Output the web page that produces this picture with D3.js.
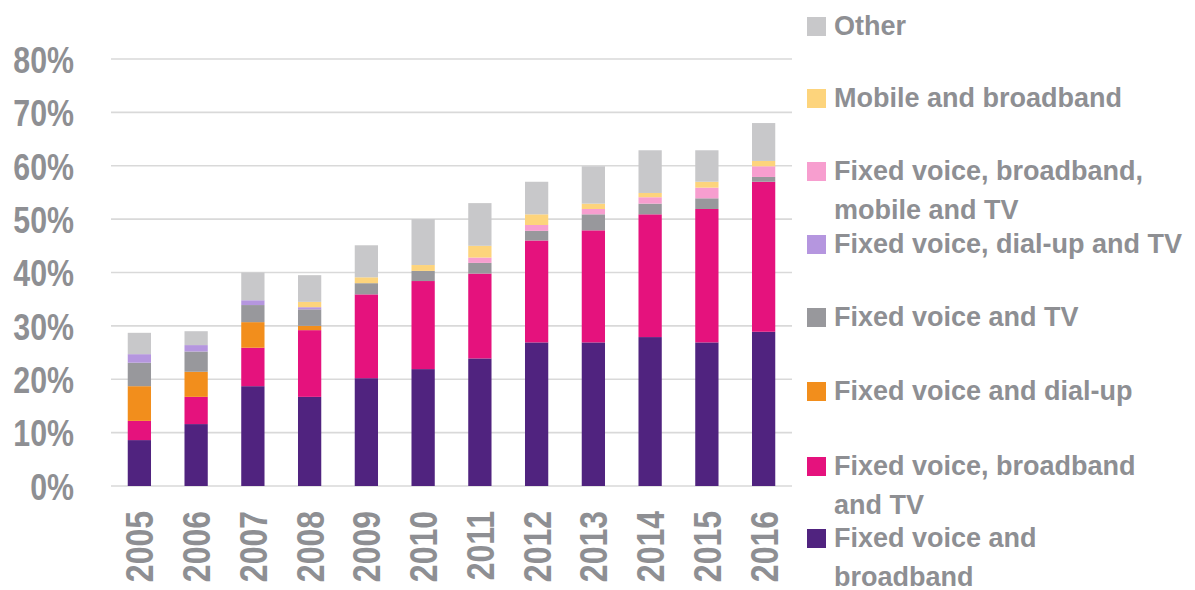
<!DOCTYPE html>
<html>
<head>
<meta charset="utf-8">
<script src="https://cdn.jsdelivr.net/npm/d3@7"></script>
<style>
  html, body { margin: 0; padding: 0; background: #fff; }
  svg { display: block; }
</style>
</head>
<body>
<svg id="chart" width="1195" height="590"></svg>
<script>
// ---- data ----
const years = ["2005","2006","2007","2008","2009","2010","2011","2012","2013","2014","2015","2016"];
const seriesNames = [
  "Fixed voice and broadband",
  "Fixed voice, broadband and TV",
  "Fixed voice and dial-up",
  "Fixed voice and TV",
  "Fixed voice, dial-up and TV",
  "Fixed voice, broadband, mobile and TV",
  "Mobile and broadband",
  "Other"
];
const fixedVoiceBroadband      = [8.6, 11.6, 18.7, 16.7, 20.2, 21.9, 23.9, 26.9, 26.9, 27.9, 26.9, 28.9];
const fixedVoiceBroadbandTV    = [3.6, 5.1, 7.2, 12.5, 15.7, 16.5, 15.9, 19.1, 21.0, 23.0, 25.0, 28.1];
const fixedVoiceDialup         = [6.5, 4.7, 4.8, 0.8, 0, 0, 0, 0, 0, 0, 0, 0];
const fixedVoiceTV             = [4.4, 3.8, 3.2, 3.1, 2.1, 1.9, 2.0, 1.8, 3.0, 2.0, 2.0, 0.9];
const fixedVoiceDialupTV       = [1.6, 1.2, 0.9, 0.4, 0, 0, 0, 0, 0, 0, 0, 0];
const fixedVoiceBbMobileTV     = [0, 0, 0, 0, 0, 0, 1.0, 1.1, 1.0, 1.2, 2.0, 2.0];
const mobileBroadband          = [0, 0, 0, 1.0, 1.1, 1.1, 2.2, 2.0, 1.0, 0.8, 1.1, 1.0];
const other                    = [4.0, 2.6, 5.2, 5.0, 6.0, 8.6, 8.0, 6.1, 7.0, 8.0, 5.9, 7.1];
const yTicks = [0, 10, 20, 30, 40, 50, 60, 70, 80];

const seriesValues = [fixedVoiceBroadband, fixedVoiceBroadbandTV, fixedVoiceDialup, fixedVoiceTV,
                      fixedVoiceDialupTV, fixedVoiceBbMobileTV, mobileBroadband, other];
const colors = ["#50237f", "#e5127d", "#f28e1c", "#98989c", "#b596df", "#f79ecf", "#fdd47c", "#c8c8ca"];

// table for stack
const table = years.map((y, i) => {
  const row = { year: y };
  seriesNames.forEach((s, k) => row[s] = seriesValues[k][i]);
  return row;
});
const stacked = d3.stack().keys(seriesNames)(table);

const svg = d3.select("#chart");
const textColor = "#8e8f93";
const axisFont = "'Liberation Sans', Arial, sans-serif";

const x = d3.scaleBand().domain(years).range([111, 792]).paddingInner(0.59).paddingOuter(0.295);
const y = d3.scaleLinear().domain([0, 80]).range([486, 59]);

// gridlines
svg.append("g").selectAll("line").data(yTicks).join("line")
  .attr("x1", 111).attr("x2", 792)
  .attr("y1", d => y(d)).attr("y2", d => y(d))
  .attr("stroke", "#d9d9d9").attr("stroke-width", 1.6);

// y axis labels (condensed look via horizontal scale)
const yAxis = d3.axisLeft(y).tickValues(yTicks).tickFormat(d => d + "%").tickSize(0).tickPadding(0);
const yg = svg.append("g").attr("transform", "translate(74,0)").call(yAxis);
yg.select(".domain").remove();
yg.selectAll("text")
  .attr("fill", textColor)
  .attr("font-family", axisFont)
  .attr("font-weight", "bold")
  .attr("font-size", 37)
  .attr("x", 0)
  .attr("dy", "0.36em")
  .attr("transform", "scale(0.82,1)");

// bars
svg.append("g").selectAll("g").data(stacked).join("g")
  .attr("fill", (d, i) => colors[i])
  .selectAll("rect").data(d => d).join("rect")
  .attr("x", d => x(d.data.year))
  .attr("width", x.bandwidth())
  .attr("y", d => y(d[1]))
  .attr("height", d => Math.max(0, y(d[0]) - y(d[1])));

// x axis labels (rotated)
const xAxis = d3.axisBottom(x).tickSize(0).tickPadding(0);
const xg = svg.append("g").attr("transform", "translate(0,511)").call(xAxis);
xg.select(".domain").remove();
xg.selectAll("text")
  .attr("fill", textColor)
  .attr("font-family", axisFont)
  .attr("font-weight", "bold")
  .attr("font-size", 39)
  .attr("text-anchor", "end")
  .attr("transform", "rotate(-90) scale(0.82,1)")
  .attr("x", 0).attr("y", 0)
  .attr("dy", "0.36em");

// legend (top to bottom: reverse of stack order)
const legendRows = [
  { name: "Other", lines: ["Other"], top: 17 },
  { name: "Mobile and broadband", lines: ["Mobile and broadband"], top: 89 },
  { name: "Fixed voice, broadband, mobile and TV", lines: ["Fixed voice, broadband,", "mobile and TV"], top: 162 },
  { name: "Fixed voice, dial-up and TV", lines: ["Fixed voice, dial-up and TV"], top: 235 },
  { name: "Fixed voice and TV", lines: ["Fixed voice and TV"], top: 308 },
  { name: "Fixed voice and dial-up", lines: ["Fixed voice and dial-up"], top: 382 },
  { name: "Fixed voice, broadband and TV", lines: ["Fixed voice, broadband", "and TV"], top: 457 },
  { name: "Fixed voice and broadband", lines: ["Fixed voice and", "broadband"], top: 529 }
];
const lg = svg.append("g");
const items = lg.selectAll("g").data(legendRows).join("g")
  .attr("transform", d => `translate(807,${d.top})`);
items.append("rect")
  .attr("width", 19).attr("height", 19)
  .attr("fill", d => colors[seriesNames.indexOf(d.name)]);
items.each(function(d) {
  const t = d3.select(this).append("text")
    .attr("fill", textColor)
    .attr("font-family", "'Liberation Sans', Arial, sans-serif")
    .attr("font-weight", "bold")
    .attr("font-size", 27);
  d.lines.forEach((ln, i) => {
    t.append("tspan").attr("x", 27).attr("y", 18 + i * 38.5).text(ln);
  });
});
</script>
</body>
</html>
